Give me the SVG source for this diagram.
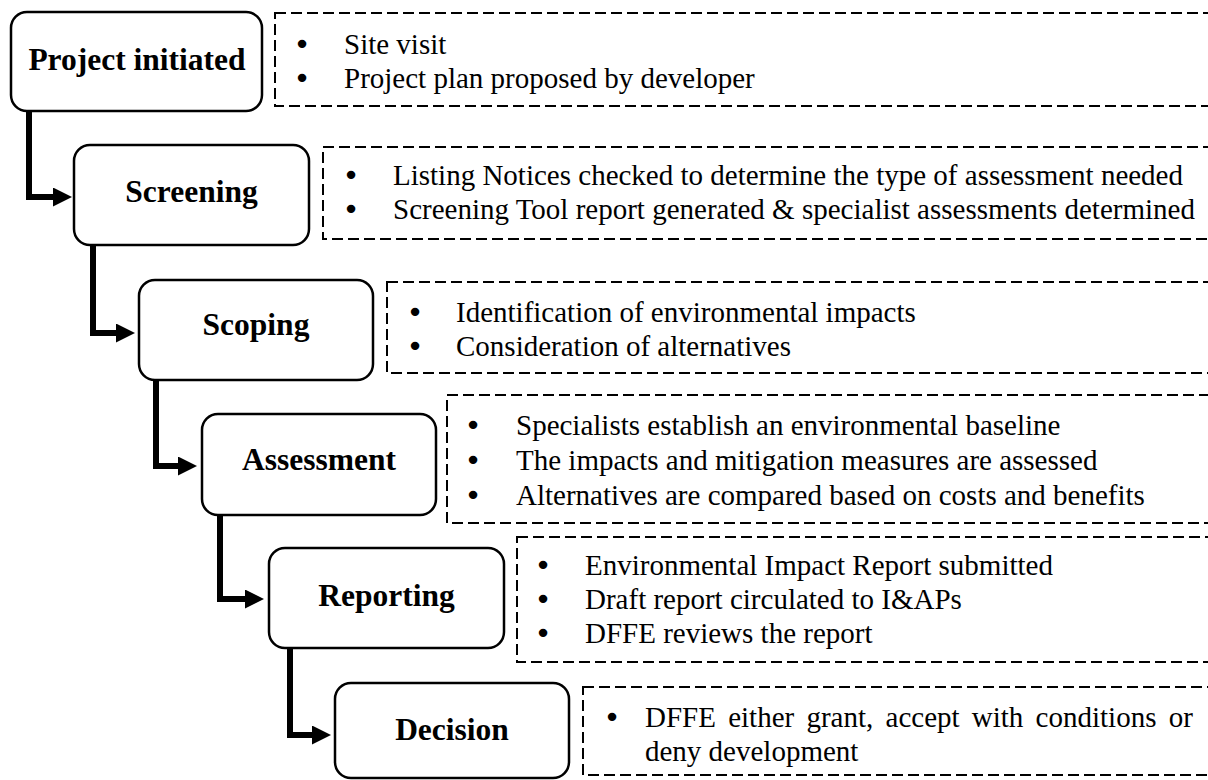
<svg xmlns="http://www.w3.org/2000/svg" width="1208" height="780" viewBox="0 0 1208 780">
<style>
.node rect{fill:#fff;stroke:#000;stroke-width:2.5}
.node text{font-family:"Liberation Serif","Times New Roman",serif;font-weight:bold;font-size:31.5px;text-anchor:middle;fill:#000}
.note rect{fill:none;stroke:#000;stroke-width:2;stroke-dasharray:11 5}
.note text{font-family:"Liberation Serif","Times New Roman",serif;font-size:29px;fill:#000}
.note .b{font-family:"DejaVu Sans",sans-serif;font-size:29px;text-anchor:middle}
.conn path{fill:none;stroke:#000;stroke-width:6;stroke-linejoin:miter;marker-end:url(#arr)}
</style>
<defs>
<marker id="arr" markerUnits="userSpaceOnUse" markerWidth="19" markerHeight="19" refX="0" refY="9.5" orient="auto" viewBox="0 0 19 19">
<path d="M0,0 L19,9.5 L0,19 Z" fill="#000"/>
</marker>
</defs>
<rect width="1208" height="780" fill="#fff"/>
<g id="connectors" class="conn">
<path d="M29,111 V197 H53"/>
<path d="M93,245 V333 H116"/>
<path d="M156,380 V466 H178"/>
<path d="M220,515 V599 H245"/>
<path d="M290,648 V735 H312"/>
</g>
<g id="n1" class="node"><rect x="11" y="12" width="251" height="99" rx="16"/><text x="137" y="70">Project initiated</text></g>
<g id="n2" class="node"><rect x="74" y="145" width="235" height="100" rx="16"/><text x="191.5" y="202">Screening</text></g>
<g id="n3" class="node"><rect x="139" y="280" width="234" height="100" rx="16"/><text x="256" y="335">Scoping</text></g>
<g id="n4" class="node"><rect x="202" y="414" width="234" height="101" rx="16"/><text x="319" y="470">Assessment</text></g>
<g id="n5" class="node"><rect x="269" y="548" width="235" height="100" rx="16"/><text x="386.5" y="606">Reporting</text></g>
<g id="n6" class="node"><rect x="335" y="683" width="234" height="95" rx="16"/><text x="452" y="740">Decision</text></g>
<g id="d1" class="note"><rect x="275" y="13" width="950" height="93"/>
<text class="b" x="302" y="54">•</text><text x="344" y="54">Site visit</text>
<text class="b" x="302" y="88">•</text><text x="344" y="88">Project plan proposed by developer</text></g>
<g id="d2" class="note"><rect x="323" y="147" width="900" height="92"/>
<text class="b" x="351" y="185">•</text><text x="393" y="185">Listing Notices checked to determine the type of assessment needed</text>
<text class="b" x="351" y="219">•</text><text x="393" y="219">Screening Tool report generated &amp; specialist assessments determined</text></g>
<g id="d3" class="note"><rect x="387" y="282" width="850" height="91"/>
<text class="b" x="415" y="322">•</text><text x="456" y="322">Identification of environmental impacts</text>
<text class="b" x="415" y="356">•</text><text x="456" y="356">Consideration of alternatives</text></g>
<g id="d4" class="note"><rect x="447" y="395" width="800" height="128"/>
<text class="b" x="473" y="435">•</text><text x="516" y="435">Specialists establish an environmental baseline</text>
<text class="b" x="473" y="470">•</text><text x="516" y="470">The impacts and mitigation measures are assessed</text>
<text class="b" x="473" y="505">•</text><text x="516" y="505">Alternatives are compared based on costs and benefits</text></g>
<g id="d5" class="note"><rect x="517" y="537" width="750" height="125"/>
<text class="b" x="543" y="575">•</text><text x="585" y="575">Environmental Impact Report submitted</text>
<text class="b" x="543" y="609">•</text><text x="585" y="609">Draft report circulated to I&amp;APs</text>
<text class="b" x="543" y="643">•</text><text x="585" y="643">DFFE reviews the report</text></g>
<g id="d6" class="note"><rect x="583" y="687" width="700" height="88"/>
<text class="b" x="612" y="727">•</text><text x="645" y="727" word-spacing="5">DFFE either grant, accept with conditions or</text>
<text x="645" y="761">deny development</text></g>
</svg>
